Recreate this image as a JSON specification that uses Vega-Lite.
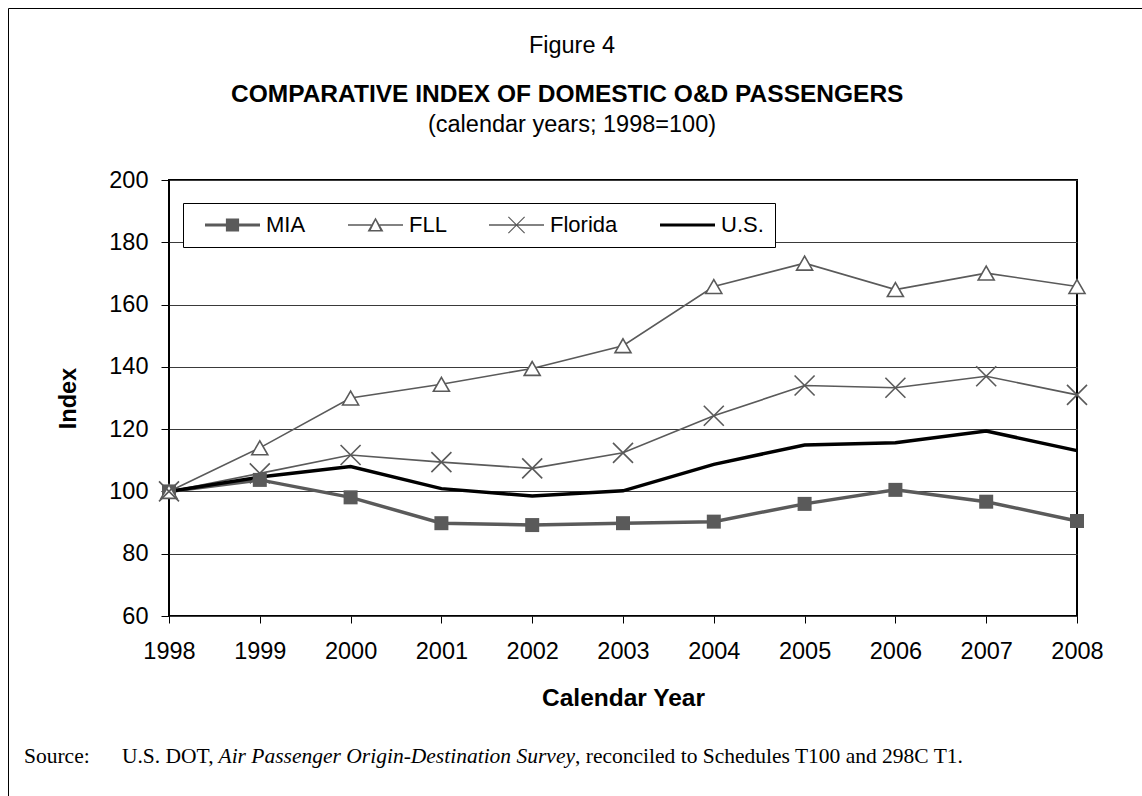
{
  "$schema": "https://vega.github.io/schema/vega-lite/v6.json",
  "autosize": {"type": "none"},
  "width": 908,
  "height": 436,
  "padding": {"left": 169, "top": 180, "right": 65, "bottom": 180},
  "background": "white",
  "config": {
    "view": {"stroke": "black", "strokeWidth": 2},
    "font": "Liberation Sans"
  },
  "data": {
    "values": [
      {"year": 1998, "series": "MIA", "value": 100},
      {"year": 1999, "series": "MIA", "value": 103.7},
      {"year": 2000, "series": "MIA", "value": 98.1},
      {"year": 2001, "series": "MIA", "value": 89.8},
      {"year": 2002, "series": "MIA", "value": 89.2},
      {"year": 2003, "series": "MIA", "value": 89.8},
      {"year": 2004, "series": "MIA", "value": 90.3},
      {"year": 2005, "series": "MIA", "value": 96.0},
      {"year": 2006, "series": "MIA", "value": 100.5},
      {"year": 2007, "series": "MIA", "value": 96.7},
      {"year": 2008, "series": "MIA", "value": 90.5},
      {"year": 1998, "series": "FLL", "value": 100},
      {"year": 1999, "series": "FLL", "value": 114.0},
      {"year": 2000, "series": "FLL", "value": 130.0},
      {"year": 2001, "series": "FLL", "value": 134.4},
      {"year": 2002, "series": "FLL", "value": 139.5},
      {"year": 2003, "series": "FLL", "value": 146.8},
      {"year": 2004, "series": "FLL", "value": 165.8},
      {"year": 2005, "series": "FLL", "value": 173.3},
      {"year": 2006, "series": "FLL", "value": 164.8},
      {"year": 2007, "series": "FLL", "value": 170.1},
      {"year": 2008, "series": "FLL", "value": 165.8},
      {"year": 1998, "series": "Florida", "value": 100},
      {"year": 1999, "series": "Florida", "value": 105.8},
      {"year": 2000, "series": "Florida", "value": 111.7},
      {"year": 2001, "series": "Florida", "value": 109.4},
      {"year": 2002, "series": "Florida", "value": 107.4},
      {"year": 2003, "series": "Florida", "value": 112.4},
      {"year": 2004, "series": "Florida", "value": 124.3},
      {"year": 2005, "series": "Florida", "value": 134.0},
      {"year": 2006, "series": "Florida", "value": 133.3},
      {"year": 2007, "series": "Florida", "value": 137.0},
      {"year": 2008, "series": "Florida", "value": 131.0},
      {"year": 1998, "series": "U.S.", "value": 100},
      {"year": 1999, "series": "U.S.", "value": 104.6},
      {"year": 2000, "series": "U.S.", "value": 108.0},
      {"year": 2001, "series": "U.S.", "value": 100.9},
      {"year": 2002, "series": "U.S.", "value": 98.5},
      {"year": 2003, "series": "U.S.", "value": 100.2},
      {"year": 2004, "series": "U.S.", "value": 108.7},
      {"year": 2005, "series": "U.S.", "value": 114.9},
      {"year": 2006, "series": "U.S.", "value": 115.6},
      {"year": 2007, "series": "U.S.", "value": 119.4},
      {"year": 2008, "series": "U.S.", "value": 113.1}
    ]
  },
  "encoding": {
    "x": {
      "field": "year", "type": "quantitative",
      "scale": {"domain": [1998, 2008], "nice": false, "zero": false},
      "axis": {
        "values": [1998, 1999, 2000, 2001, 2002, 2003, 2004, 2005, 2006, 2007, 2008],
        "format": "d", "labelFont": "Liberation Sans", "labelFontSize": 23.5, "labelColor": "black",
        "labelFlush": false, "labelOverlap": false, "labelPadding": 16,
        "tickColor": "black", "tickSize": 7, "tickWidth": 1, "domain": false, "grid": false,
        "title": "Calendar Year", "titleFont": "Liberation Sans", "titleFontSize": 24.5,
        "titleFontWeight": "bold", "titleColor": "black", "titleY": 82, "titleBaseline": "middle"
      }
    },
    "y": {
      "field": "value", "type": "quantitative",
      "scale": {"domain": [60, 200], "nice": false, "zero": false},
      "axis": {
        "values": [60, 80, 100, 120, 140, 160, 180, 200],
        "labelFont": "Liberation Sans", "labelFontSize": 23.5, "labelColor": "black",
        "labelFlush": false, "labelOverlap": false, "labelPadding": 13,
        "tickColor": "black", "tickSize": 8, "tickWidth": 1, "domain": false,
        "grid": true, "gridColor": "#3a3a3a", "gridWidth": 1,
        "title": "Index", "titleFont": "Liberation Sans", "titleFontSize": 23.5,
        "titleFontWeight": "bold", "titleColor": "black", "titleX": -101, "titleY": 218,
        "titleAngle": 270, "titleBaseline": "middle", "titleAlign": "center"
      }
    }
  },
  "layer": [
    {
      "transform": [{"filter": "datum.series === 'MIA'"}],
      "mark": {"type": "line", "color": "#5a5a5a", "strokeWidth": 3.5}
    },
    {
      "transform": [{"filter": "datum.series === 'FLL'"}],
      "mark": {"type": "line", "color": "#5a5a5a", "strokeWidth": 1.6}
    },
    {
      "transform": [{"filter": "datum.series === 'Florida'"}],
      "mark": {"type": "line", "color": "#5a5a5a", "strokeWidth": 1.6}
    },
    {
      "transform": [{"filter": "datum.series === 'U.S.'"}],
      "mark": {"type": "line", "color": "black", "strokeWidth": 3.5}
    },
    {
      "transform": [{"filter": "datum.series === 'MIA'"}],
      "mark": {"type": "point", "shape": "square", "filled": true, "color": "#5a5a5a", "size": 196, "opacity": 1}
    },
    {
      "transform": [{"filter": "datum.series === 'FLL'"}],
      "mark": {"type": "point", "shape": "triangle-up", "filled": false, "fill": "white", "stroke": "#5a5a5a", "strokeWidth": 1.6, "size": 256, "opacity": 1}
    },
    {
      "transform": [{"filter": "datum.series === 'Florida'"}],
      "mark": {"type": "point", "shape": "M-1,-1L1,1M-1,1L1,-1", "filled": false, "stroke": "#5a5a5a", "strokeWidth": 1.6, "size": 400, "opacity": 1}
    },
    {
      "data": {"values": []},
      "mark": {"type": "point", "filled": true, "opacity": 1},
      "encoding": {
        "color": {
          "field": "series", "type": "nominal",
          "scale": {"domain": ["MIA", "FLL", "Florida", "U.S."], "range": ["#5a5a5a", "#5a5a5a", "#5a5a5a", "black"]},
          "legend": {
            "orient": "none", "legendX": 14, "legendY": 23, "direction": "horizontal", "columns": 4,
            "title": null, "padding": 11, "strokeColor": "black", "fillColor": "white",
            "symbolSize": 3025, "symbolStrokeWidth": 0, "symbolOpacity": 1,
            "labelFont": "Liberation Sans", "labelFontSize": 22, "labelColor": "black",
            "labelOffset": 17, "columnPadding": 31, "clipHeight": 22, "labelLimit": 300
          }
        },
        "shape": {
          "field": "series", "type": "nominal",
          "scale": {
            "domain": ["MIA", "FLL", "Florida", "U.S."],
            "range": [
              "M-1,0L-1,0M-0.6,-0.055H1.4V0.055H-0.6ZM0.16,-0.24H0.64V0.24H0.16Z",
              "M-1,0L-1,0M-0.6,-0.027H0.25V0.027H-0.6ZM0.55,-0.027H1.4V0.027H0.55ZM0.4,-0.27L0.69,0.24H0.11ZM0.4,-0.16L0.23,0.185H0.57Z",
              "M-1,0L-1,0M-0.6,-0.027H1.4V0.027H-0.6ZM0.12,-0.31L0.71,0.28L0.68,0.31L0.09,-0.28ZM0.68,-0.31L0.71,-0.28L0.12,0.31L0.09,0.28Z",
              "M-1,0L-1,0M-0.6,-0.055H1.4V0.055H-0.6Z"
            ]
          },
          "legend": {
            "orient": "none", "legendX": 14, "legendY": 23, "direction": "horizontal", "columns": 4,
            "title": null, "padding": 11, "strokeColor": "black", "fillColor": "white",
            "symbolSize": 3025, "symbolStrokeWidth": 0, "symbolOpacity": 1,
            "labelFont": "Liberation Sans", "labelFontSize": 22, "labelColor": "black",
            "labelOffset": 17, "columnPadding": 31, "clipHeight": 22, "labelLimit": 300
          }
        }
      }
    },
    {
      "data": {"values": []},
      "mark": {"type": "point"},
      "encoding": {
        "fill": {
          "field": "k4", "type": "nominal",
          "scale": {"domain": ["d"], "range": ["white"]},
          "legend": {
            "orient": "none", "legendX": -161, "legendY": -172, "title": null, "padding": 0,
            "strokeColor": "black", "symbolType": "square", "symbolSize": 4000000, "symbolOpacity": 0,
            "labelExpr": "''", "labelFontSize": 1, "labelOffset": 0,
            "encode": {"legend": {"update": {"strokeWidth": {"value": 2}}}}
          }
        }
      }
    },
    {
      "data": {"values": []},
      "mark": {"type": "point"},
      "encoding": {
        "stroke": {
          "field": "k1", "type": "nominal",
          "scale": {"domain": ["a"], "range": ["white"]},
          "legend": {
            "orient": "none", "legendX": -98, "legendY": -146,
            "title": ["Figure 4", "(calendar years; 1998=100)"],
            "titleAnchor": "middle", "titleFont": "Liberation Sans", "titleFontSize": 23.5,
            "titleFontWeight": "normal", "titleColor": "black", "titleLimit": 2000, "titleLineHeight": 78.5,
            "padding": 0, "symbolType": "square", "symbolSize": 1000000, "symbolOpacity": 0,
            "labelExpr": "''", "labelFontSize": 1, "labelOffset": 0
          }
        }
      }
    },
    {
      "data": {"values": []},
      "mark": {"type": "point"},
      "encoding": {
        "opacity": {
          "field": "k2", "type": "ordinal",
          "scale": {"domain": ["b"], "range": [0, 0]},
          "legend": {
            "orient": "none", "legendX": 62, "legendY": -97,
            "title": "COMPARATIVE INDEX OF DOMESTIC O&D PASSENGERS",
            "titleAnchor": "start", "titleFont": "Liberation Sans", "titleFontSize": 24.5,
            "titleFontWeight": "bold", "titleColor": "black", "titleLimit": 2000,
            "padding": 0, "symbolSize": 1, "symbolOpacity": 0,
            "labelExpr": "''", "labelFontSize": 1, "labelOffset": 0
          }
        }
      }
    },
    {
      "data": {"values": []},
      "mark": {"type": "point"},
      "encoding": {
        "strokeDash": {
          "field": "k3", "type": "nominal",
          "scale": {"domain": ["c"], "range": [[1, 0]]},
          "legend": {
            "orient": "none", "legendX": -145, "legendY": 566,
            "title": "Source:\u00a0\u00a0\u00a0\u00a0\u00a0\u00a0U.S. DOT,",
            "titleAnchor": "start", "titleFont": "Liberation Serif", "titleFontSize": 21.5,
            "titleFontWeight": "normal", "titleColor": "black", "titleLimit": 2000,
            "padding": 0, "symbolOpacity": 0, "symbolSize": 1,
            "labelExpr": "''", "labelFontSize": 1, "labelOffset": 0
          }
        }
      }
    },
    {
      "data": {"values": []},
      "mark": {"type": "point"},
      "encoding": {
        "size": {
          "field": "k5", "type": "ordinal",
          "scale": {"domain": ["e"], "range": [4, 4]},
          "legend": {
            "orient": "none", "legendX": 49.5, "legendY": 566,
            "title": "Air Passenger Origin-Destination Survey",
            "titleAnchor": "start", "titleFont": "Liberation Serif", "titleFontSize": 21.5,
            "titleFontWeight": "normal", "titleFontStyle": "italic", "titleColor": "black", "titleLimit": 2000,
            "padding": 0, "symbolOpacity": 0,
            "labelExpr": "''", "labelFontSize": 1, "labelOffset": 0
          }
        }
      }
    },
    {
      "data": {"values": []},
      "mark": {"type": "point"},
      "encoding": {
        "strokeWidth": {
          "field": "k6", "type": "ordinal",
          "scale": {"domain": ["f"], "range": [1, 1]},
          "legend": {
            "orient": "none", "legendX": 406, "legendY": 566,
            "title": ", reconciled to Schedules T100 and 298C T1.",
            "titleAnchor": "start", "titleFont": "Liberation Serif", "titleFontSize": 21.5,
            "titleFontWeight": "normal", "titleColor": "black", "titleLimit": 2000,
            "padding": 0, "symbolOpacity": 0, "symbolSize": 1,
            "labelExpr": "''", "labelFontSize": 1, "labelOffset": 0
          }
        }
      }
    }
  ]
}
